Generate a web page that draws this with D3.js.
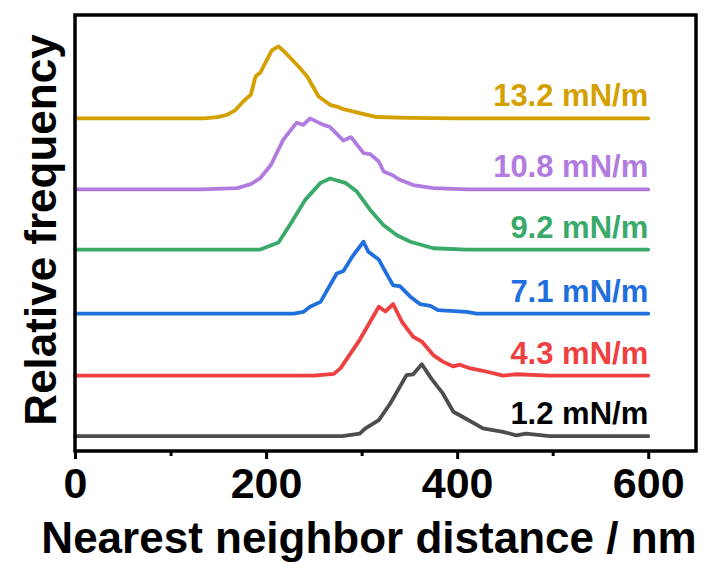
<!DOCTYPE html>
<meta charset="utf-8">
<script src="https://d3js.org/d3.v7.min.js"></script>
<style>
  body { margin: 0; background: #fff; }
  text { font-family: "Liberation Sans", Arial, sans-serif; font-weight: bold; }
</style>
<body>
<div id="chart"></div>
<script>

  // series names (surface pressure) and colours
  const labels = ["1.2 mN/m", "4.3 mN/m", "7.1 mN/m", "9.2 mN/m", "10.8 mN/m", "13.2 mN/m"];
  const lineColors = ["#4d4d4d", "#ee4040", "#1f6fde", "#3aaa6a", "#b27be0", "#d4a000"];
  const labelColors = ["#000000", "#ee4040", "#1f6fde", "#3aaa6a", "#b27be0", "#d4a000"];
  // vertical offset of each curve (stacked)
  const offsets = [0.34, 1.73, 3.15, 4.62, 6.00, 7.63];

  // distances (nm) and relative frequency for each curve
  const x1_2 = [0, 184, 280, 298, 304, 318, 330, 347, 354, 363, 373, 385, 396, 406, 427, 448, 462, 472, 497, 600];
  const f1_2 = [0, 0, 0, 0.06, 0.18, 0.37, 0.75, 1.40, 1.42, 1.65, 1.32, 0.98, 0.56, 0.44, 0.18, 0.10, 0.02, 0.06, 0, 0];

  const x4_3 = [0, 250, 271, 278, 298, 318, 325, 333, 342, 354, 363, 375, 385, 396, 403, 413, 427, 448, 462, 497, 600];
  const f4_3 = [0, 0, 0.04, 0.17, 0.82, 1.58, 1.47, 1.64, 1.24, 0.89, 0.78, 0.47, 0.32, 0.21, 0.25, 0.17, 0.11, 0, 0.03, 0, 0];

  const x7_1 = [0, 229, 239, 246, 257, 265, 274, 281, 290, 302, 307, 318, 326, 333, 340, 351, 361, 372, 380, 410, 420, 600];
  const f7_1 = [0, 0, 0.04, 0.16, 0.27, 0.58, 0.92, 0.98, 1.30, 1.65, 1.42, 1.24, 0.92, 0.65, 0.63, 0.39, 0.22, 0.18, 0.08, 0.04, 0, 0];

  const x9_2 = [0, 194, 213, 227, 241, 257, 267, 283, 295, 309, 323, 337, 351, 375, 410, 600];
  const f9_2 = [0, 0, 0.16, 0.64, 1.14, 1.53, 1.63, 1.53, 1.33, 0.91, 0.56, 0.33, 0.18, 0.03, 0, 0];

  const x10_8 = [0, 132, 170, 184, 194, 205, 218, 232, 239, 246, 260, 267, 281, 289, 302, 309, 318, 323, 332, 340, 354, 375, 410, 600];
  const f10_8 = [0, 0, 0.03, 0.12, 0.26, 0.56, 1.14, 1.53, 1.48, 1.63, 1.48, 1.43, 1.12, 1.20, 0.83, 0.81, 0.64, 0.41, 0.33, 0.22, 0.10, 0.03, 0, 0];

  const x13_2 = [0, 135, 149, 159, 168, 177, 184, 189, 194, 206, 213, 220, 234, 243, 255, 267, 274, 281, 298, 316, 350, 400, 600];
  const f13_2 = [0, 0, 0.03, 0.08, 0.19, 0.41, 0.54, 0.96, 1.05, 1.56, 1.65, 1.51, 1.19, 0.96, 0.50, 0.31, 0.27, 0.21, 0.12, 0.03, 0.01, 0, 0];

  const xs = [x1_2, x4_3, x7_1, x9_2, x10_8, x13_2];
  const fs = [f1_2, f4_3, f7_1, f9_2, f10_8, f13_2];

  const majorTicks = [0, 200, 400, 600];
  const minorTicks = [100, 300, 500];

  const width = 708, height = 562;
  const plot = {left: 75, right: 696, top: 15, bottom: 451};

  const svg = d3.select("#chart").append("svg")
      .attr("width", width)
      .attr("height", height);

  const x = d3.scaleLinear().domain([0, 650]).range([plot.left, plot.right]);
  const y = d3.scaleLinear().domain([0, 10]).range([plot.bottom, plot.top]);

  // curves
  const series = labels.map((name, i) => ({
    name: name,
    offset: offsets[i],
    points: xs[i].map((d, j) => ({x: d, f: fs[i][j]}))
  }));

  const line = d3.line()
      .x(d => x(d.x))
      .y(d => y(d.f));

  svg.append("g")
    .selectAll("path")
    .data(series)
    .join("path")
      .attr("fill", "none")
      .attr("stroke", (d, i) => lineColors[i])
      .attr("stroke-width", 3.8)
      .attr("stroke-linejoin", "round")
      .attr("stroke-linecap", "round")
      .attr("d", d => line(d.points.map(p => ({x: p.x, f: p.f + d.offset}))));

  // labels above each curve's right end
  svg.append("g")
    .selectAll("text")
    .data(series)
    .join("text")
      .attr("x", x(600))
      .attr("y", d => y(d.offset) - 12)
      .attr("text-anchor", "end")
      .attr("fill", (d, i) => labelColors[i])
      .style("font-size", "31px")
      .text(d => d.name);

  // x axis: major and minor ticks
  const xAxis = svg.append("g")
      .attr("transform", `translate(0,${plot.bottom})`)
      .call(d3.axisBottom(x).tickValues(majorTicks).tickSize(8).tickPadding(8).tickFormat(d3.format("d")));
  xAxis.select(".domain").remove();
  xAxis.selectAll(".tick line").attr("stroke", "#000").attr("stroke-width", 3);
  xAxis.selectAll(".tick text")
      .attr("fill", "#000")
      .style("font-size", "43px")
      .style("font-family", "'Liberation Sans', Arial, sans-serif")
      .style("font-weight", "bold");

  const xMinor = svg.append("g")
      .attr("transform", `translate(0,${plot.bottom})`)
      .call(d3.axisBottom(x).tickValues(minorTicks).tickSize(5).tickFormat(""));
  xMinor.select(".domain").remove();
  xMinor.selectAll(".tick line").attr("stroke", "#000").attr("stroke-width", 3);

  // frame
  svg.append("rect")
      .attr("x", plot.left)
      .attr("y", plot.top)
      .attr("width", plot.right - plot.left)
      .attr("height", plot.bottom - plot.top)
      .attr("fill", "none")
      .attr("stroke", "#000")
      .attr("stroke-width", 3.5);

  // axis titles
  svg.append("text")
      .attr("x", 369)
      .attr("y", 553)
      .attr("text-anchor", "middle")
      .style("font-size", "44px")
      .text("Nearest neighbor distance / nm");

  svg.append("text")
      .attr("transform", "translate(56,230) rotate(-90)")
      .attr("text-anchor", "middle")
      .style("font-size", "44px")
      .text("Relative frequency");

</script>
</body>
